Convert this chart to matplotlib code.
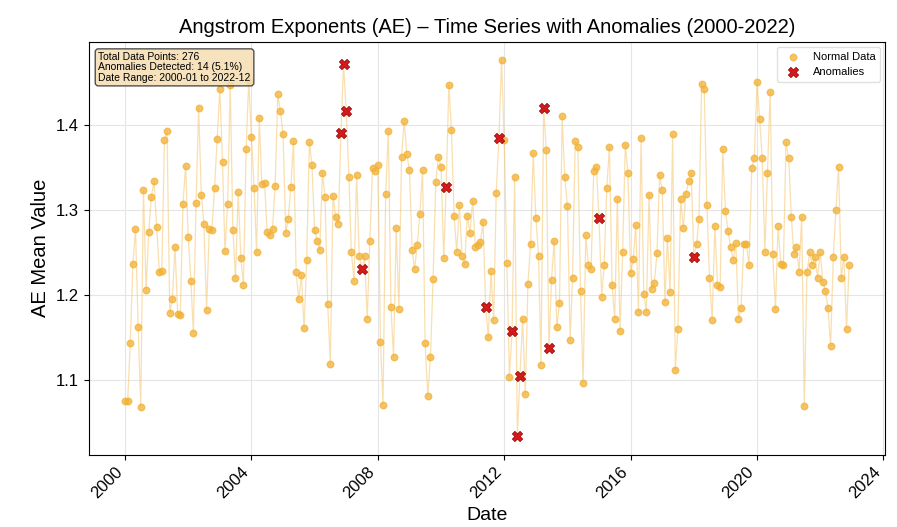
import matplotlib
matplotlib.use("Agg")
import matplotlib.pyplot as plt
import matplotlib.dates as mdates
import numpy as np
import pandas as pd

plt.rcParams['font.family'] = ['Liberation Sans', 'DejaVu Sans']

# valores mensuales (2000-01 .. 2022-12)
ae_valores = [
    1.075, 1.075, 1.143, 1.236, 1.278, 1.162, 1.068, 1.324, 1.206, 1.274,
    1.315, 1.334, 1.280, 1.227, 1.228, 1.382, 1.393, 1.179, 1.195, 1.257,
    1.178, 1.176, 1.307, 1.352, 1.268, 1.216, 1.155, 1.308, 1.420, 1.318,
    1.284, 1.182, 1.278, 1.276, 1.326, 1.384, 1.442, 1.356, 1.252, 1.307,
    1.447, 1.277, 1.220, 1.321, 1.243, 1.212, 1.372, 1.452, 1.386, 1.326,
    1.250, 1.408, 1.330, 1.332, 1.274, 1.270, 1.278, 1.328, 1.436, 1.416,
    1.389, 1.273, 1.289, 1.327, 1.381, 1.227, 1.195, 1.223, 1.161, 1.241,
    1.380, 1.353, 1.276, 1.264, 1.253, 1.344, 1.315, 1.189, 1.119, 1.317,
    1.292, 1.284, 1.390, 1.472, 1.416, 1.339, 1.251, 1.217, 1.341, 1.246,
    1.231, 1.246, 1.172, 1.264, 1.349, 1.346, 1.353, 1.145, 1.071, 1.319,
    1.393, 1.186, 1.127, 1.279, 1.184, 1.362, 1.405, 1.366, 1.347, 1.253,
    1.230, 1.259, 1.295, 1.347, 1.143, 1.081, 1.127, 1.219, 1.333, 1.362,
    1.351, 1.243, 1.327, 1.447, 1.394, 1.293, 1.251, 1.306, 1.246, 1.236,
    1.293, 1.273, 1.311, 1.257, 1.259, 1.262, 1.286, 1.186, 1.150, 1.228,
    1.170, 1.320, 1.385, 1.476, 1.382, 1.238, 1.104, 1.158, 1.339, 1.034,
    1.105, 1.172, 1.083, 1.213, 1.260, 1.367, 1.291, 1.246, 1.118, 1.420,
    1.371, 1.137, 1.218, 1.264, 1.162, 1.191, 1.410, 1.339, 1.305, 1.147,
    1.220, 1.381, 1.374, 1.205, 1.096, 1.270, 1.235, 1.230, 1.346, 1.351,
    1.290, 1.198, 1.235, 1.326, 1.374, 1.212, 1.172, 1.313, 1.157, 1.251,
    1.377, 1.343, 1.226, 1.242, 1.282, 1.180, 1.385, 1.201, 1.180, 1.318,
    1.207, 1.214, 1.249, 1.341, 1.323, 1.192, 1.267, 1.203, 1.389, 1.112,
    1.160, 1.313, 1.279, 1.319, 1.334, 1.344, 1.245, 1.260, 1.289, 1.448,
    1.442, 1.306, 1.220, 1.171, 1.281, 1.212, 1.209, 1.372, 1.299, 1.275,
    1.257, 1.241, 1.261, 1.172, 1.185, 1.260, 1.260, 1.235, 1.349, 1.361,
    1.451, 1.407, 1.361, 1.251, 1.344, 1.439, 1.248, 1.183, 1.281, 1.237,
    1.235, 1.380, 1.361, 1.292, 1.248, 1.256, 1.227, 1.292, 1.069, 1.227,
    1.250, 1.235, 1.245, 1.220, 1.250, 1.215, 1.205, 1.185, 1.140, 1.245,
    1.300, 1.350, 1.220, 1.245, 1.160, 1.235,
]
# indices de los meses marcados como anomalia
anomalias_idx = [82, 83, 84, 90, 122, 137, 142, 147, 149, 150, 159, 161, 180, 216]

fechas = pd.date_range("2000-01-01", periods=len(ae_valores), freq="MS")
valores = np.array(ae_valores)
es_anomalia = np.zeros(len(valores), dtype=bool)
es_anomalia[anomalias_idx] = True

fig = plt.figure(figsize=(8.97, 5.27), dpi=100)
ax = fig.add_axes([0.099, 0.137, 0.888, 0.784])

ax.plot(fechas, valores, color="#F5C060", alpha=0.5, linewidth=0.9, zorder=1)
ax.scatter(fechas[~es_anomalia], valores[~es_anomalia], color="#F2B135", alpha=0.75,
           s=22, label="Normal Data", zorder=2)
ax.scatter(fechas[es_anomalia], valores[es_anomalia], color="#D7191C", marker="X",
           s=55, edgecolors="#8B0000", linewidths=0.5, label="Anomalies", zorder=3)

ax.set_title("Angstrom Exponents (AE) \u2013 Time Series with Anomalies (2000-2022)", fontsize=14.5)
ax.set_xlabel("Date", fontsize=14)
ax.set_ylabel("AE Mean Value", fontsize=14.5)
ax.xaxis.set_major_locator(mdates.YearLocator(4))
ax.xaxis.set_major_formatter(mdates.DateFormatter("%Y"))
ax.set_yticks([1.1, 1.2, 1.3, 1.4])
ax.tick_params(axis="both", labelsize=12)
plt.setp(ax.get_xticklabels(), rotation=45, ha="right")
ax.grid(color="#E5E5E5", linewidth=0.8)
ax.set_axisbelow(True)

ax.text(0.012, 0.975,
        "Total Data Points: 276\nAnomalies Detected: 14 (5.1%)\nDate Range: 2000-01 to 2022-12",
        transform=ax.transAxes, fontsize=7.5, va="top", linespacing=1.05,
        bbox=dict(boxstyle="round,pad=0.3", facecolor="#F5DEB3", edgecolor="#333333", alpha=0.85))
ax.legend(loc="upper right", fontsize=8, frameon=True, framealpha=0.9, edgecolor="#DDDDDD")

fig.savefig("out.png", dpi=100)
